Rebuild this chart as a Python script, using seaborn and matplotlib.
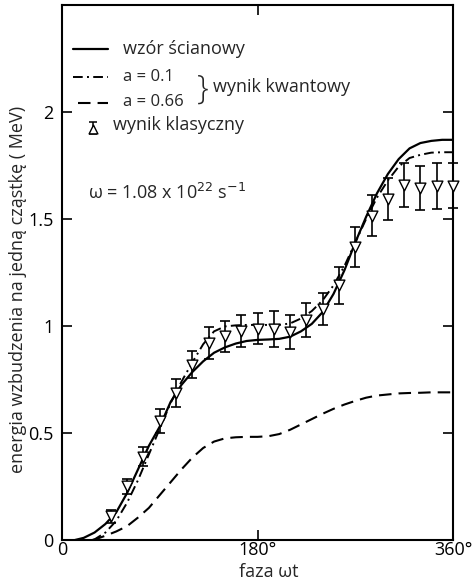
import matplotlib
matplotlib.use("Agg")
import matplotlib.pyplot as plt
import pandas as pd
import seaborn as sns

# Wall-formula curve: phase (deg) vs excitation energy per particle (MeV)
phase_wall = [12, 20, 30, 40, 50, 60, 70, 80, 90, 100, 110, 120, 130, 140, 150, 160,
              170, 180, 190, 200, 210, 220, 230, 240, 250, 260, 270, 280, 290, 300,
              310, 320, 330, 340, 350, 360]
energy_wall = [0.0, 0.01, 0.035, 0.075, 0.13, 0.22, 0.33, 0.44, 0.53, 0.645, 0.725,
               0.785, 0.835, 0.875, 0.90, 0.918, 0.93, 0.935, 0.937, 0.94, 0.95,
               0.975, 1.01, 1.065, 1.15, 1.26, 1.39, 1.51, 1.62, 1.71, 1.78, 1.83,
               1.855, 1.865, 1.87, 1.87]

# Quantum result, a = 0.1
phase_q1 = [28, 30, 40, 50, 60, 70, 80, 90, 100, 110, 120, 130, 140, 150, 160, 170,
            180, 190, 200, 210, 220, 230, 240, 250, 260, 270, 280, 290, 300, 310,
            320, 330, 340, 350, 360]
energy_q1 = [0.0, 0.003, 0.035, 0.09, 0.175, 0.28, 0.40, 0.52, 0.64, 0.74, 0.83,
             0.915, 0.975, 0.998, 1.003, 1.005, 1.005, 1.005, 1.005, 1.012, 1.035,
             1.07, 1.12, 1.19, 1.28, 1.39, 1.50, 1.60, 1.68, 1.745, 1.785, 1.80,
             1.81, 1.812, 1.812]

# Quantum result, a = 0.66
phase_q2 = [28, 30, 40, 50, 60, 70, 80, 90, 100, 110, 120, 130, 140, 150, 160, 170,
            180, 190, 200, 210, 220, 230, 240, 250, 260, 270, 280, 290, 300, 310,
            320, 330, 340, 350, 360]
energy_q2 = [0.0, 0.002, 0.02, 0.04, 0.065, 0.105, 0.15, 0.21, 0.27, 0.33, 0.385,
             0.43, 0.46, 0.475, 0.48, 0.482, 0.482, 0.485, 0.495, 0.515, 0.54,
             0.565, 0.59, 0.613, 0.633, 0.65, 0.665, 0.675, 0.68, 0.685, 0.687,
             0.688, 0.69, 0.69, 0.69]

# Classical result with error bars
phase_cl = [45, 60, 75, 90, 105, 120, 135, 150, 165, 180, 195, 210, 225, 240, 255,
            270, 285, 300, 315, 330, 345, 360]
energy_cl = [0.11, 0.252, 0.39, 0.555, 0.687, 0.82, 0.92, 0.951, 0.977, 0.988, 0.986,
             0.972, 1.028, 1.08, 1.19, 1.37, 1.516, 1.593, 1.66, 1.645, 1.654, 1.656]
err_cl = [0.032, 0.035, 0.045, 0.055, 0.065, 0.063, 0.075, 0.072, 0.075, 0.072, 0.084,
          0.08, 0.08, 0.075, 0.085, 0.093, 0.096, 0.098, 0.103, 0.103, 0.107, 0.105]

x_ticks = [0, 180, 360]
x_ticklabels = ["0", "180°", "360°"]
y_ticks = [0, 0.5, 1, 1.5, 2]
y_ticklabels = ["0", "0.5", "1", "1.5", "2"]

sns.set_style("ticks")
plt.rcParams["font.family"] = ["Open Sans", "DejaVu Sans"]
plt.rcParams["mathtext.fontset"] = "dejavusans"

W, H = 475, 582
fig = plt.figure(figsize=(W / 100, H / 100), dpi=100)
ax = fig.add_axes([62 / W, 1 - 540 / H, (453 - 62) / W, (540 - 5) / H])

df_wall = pd.DataFrame({"phase": phase_wall, "energy": energy_wall})
df_q1 = pd.DataFrame({"phase": phase_q1, "energy": energy_q1})
df_q2 = pd.DataFrame({"phase": phase_q2, "energy": energy_q2})
df_cl = pd.DataFrame({"phase": phase_cl, "energy": energy_cl, "err": err_cl})

sns.lineplot(data=df_wall, x="phase", y="energy", ax=ax, color="black", lw=1.6,
             sort=False, zorder=3)
sns.lineplot(data=df_q1, x="phase", y="energy", ax=ax, color="black", lw=1.4,
             sort=False, zorder=3).lines[-1].set_dashes((5, 2.2, 1, 2.2))
sns.lineplot(data=df_q2, x="phase", y="energy", ax=ax, color="black", lw=1.5,
             sort=False, zorder=3).lines[-1].set_dashes((6, 3.4))

ax.errorbar(df_cl["phase"], df_cl["energy"], yerr=df_cl["err"], fmt="none",
            ecolor="black", elinewidth=1.2, capsize=3.5, capthick=1.2, zorder=4,
            clip_on=False)
sns.scatterplot(data=df_cl, x="phase", y="energy", ax=ax, marker="v", s=60,
                facecolor="white", edgecolor="black", linewidth=1.0, zorder=5,
                clip_on=False)

ax.set_xlim(0, 360)
ax.set_ylim(0, 2.5)
ax.set_xticks(x_ticks)
ax.set_xticklabels(x_ticklabels)
ax.set_yticks(y_ticks)
ax.set_yticklabels(y_ticklabels)
ax.set_xlabel("")
ax.set_ylabel("")
ax.tick_params(direction="in", length=7, width=1.2, top=True, right=True,
               labelsize=13, colors="black")
ax.tick_params(axis="x", pad=1)
ax.tick_params(axis="y", pad=6)
for sp in ax.spines.values():
    sp.set_visible(True)
    sp.set_linewidth(1.5)
    sp.set_color("black")

# In-plot key
fs = 13
ax.plot([10, 42.4], [2.294, 2.294], color="black", lw=1.6)
ax.text(56, 2.294, "wzór ścianowy", fontsize=fs, va="center", ha="left")
ln, = ax.plot([10, 42.4], [2.162, 2.162], color="black", lw=1.4)
ln.set_dashes((5, 2.2, 1, 2.2))
ax.text(56, 2.164, "a = 0.1", fontsize=12, va="center", ha="left")
ln, = ax.plot([14.7, 42.4], [2.04, 2.04], color="black", lw=1.5)
ln.set_dashes((6, 3.4))
ax.text(56, 2.047, "a = 0.66", fontsize=12, va="center", ha="left")
ax.text(124, 2.105, "}", fontsize=24, va="center", ha="left", fontweight="light")
ax.text(139, 2.117, "wynik kwantowy", fontsize=fs, va="center", ha="left")
ax.errorbar([28.5], [1.925], yerr=[0.028], fmt="none", ecolor="black",
            elinewidth=1.1, capsize=3, capthick=1.1)
ax.scatter([28.5], [1.92], marker="^", s=40, facecolor="white",
           edgecolor="black", linewidth=1.0, zorder=5)
ax.text(47, 1.94, "wynik klasyczny", fontsize=fs, va="center", ha="left")
ax.text(24, 1.62, r"ω = 1.08 x 10$^{22}$ s$^{-1}$", fontsize=fs, va="center",
        ha="left")

fig.text(269 / W, 1 - 572 / H, "faza ωt", fontsize=13, ha="center", va="center")
fig.text(18 / W, 1 - 289 / H, "energia wzbudzenia na jedną cząstkę ( MeV)",
         fontsize=13, rotation=90, ha="center", va="center")

fig.savefig("out.png", dpi=100)
